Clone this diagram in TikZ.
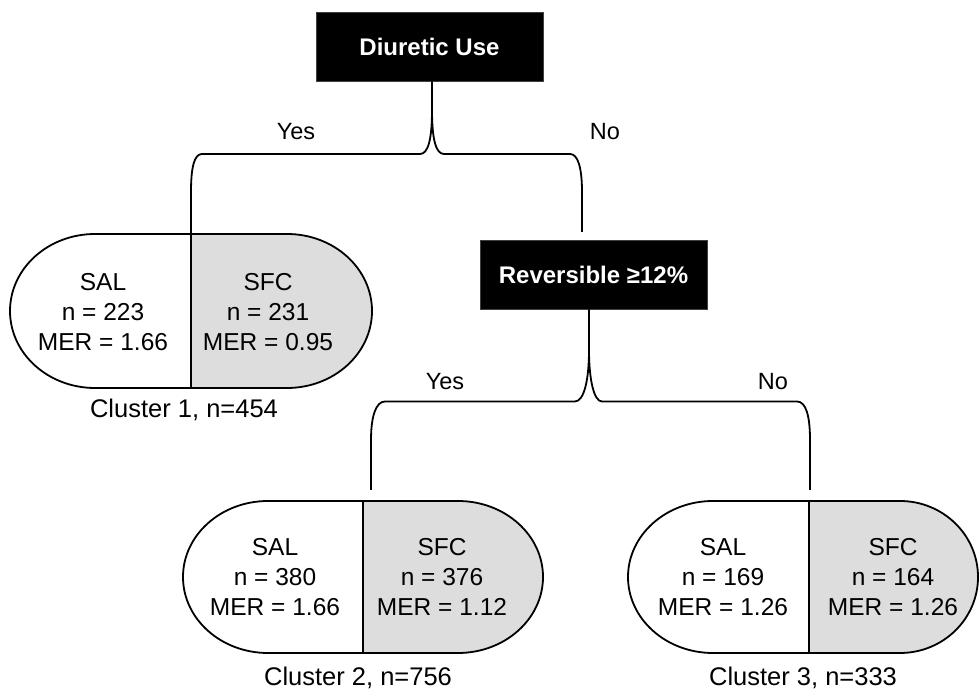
\documentclass[tikz,border=0pt]{standalone}
\usepackage{fontspec}
\setmainfont{Liberation Sans}
\newcommand\capsule[8]{%
  % #1=L #2=D #3=R #4=T #5=B #6=rxL #7=rxR #8=ry
  \filldraw[half, fill=white] (#2,#4) -- (#1+#6,#4) arc[start angle=90, end angle=270, x radius=#6pt, y radius=#8pt] -- (#2,#5) -- cycle;
  \filldraw[half, fill=halfgray] (#2,#5) -- (#3-#7,#5) arc[start angle=-90, end angle=90, x radius=#7pt, y radius=#8pt] -- (#2,#4) -- cycle;
}
\definecolor{halfgray}{RGB}{221,221,221}
\begin{document}
\begin{tikzpicture}[x=1pt,y=1pt,
  txt/.style={font=\fontsize{24.5}{30}\selectfont, align=center, inner sep=0pt},
  clus/.style={font=\fontsize{25.5}{30}\selectfont, inner sep=0pt},
  lbl/.style={font=\fontsize{23.5}{26}\selectfont, inner sep=0pt},
  decision/.style={fill=black, draw=black!75, line width=0.6pt, text=white,
    font=\bfseries\fontsize{24}{28}\selectfont, inner sep=0pt,
    minimum width=227pt, minimum height=69pt},
  half/.style={draw=black, line width=1.8pt, line join=round},
  link/.style={draw=black, line width=1.8pt, line join=round}]
\useasboundingbox (0,0) rectangle (979,690);
\fill[white] (0,0) rectangle (979,690);

% decision boxes
\node[decision] (d1) at (429.5,643.5) {Diuretic Use};
\node[decision] (d2) at (593.5,415.5) {Reversible ≥12\%};

% capsules
\capsule{10}{191}{372}{456}{302}{85}{85}{77}
\capsule{183}{363}{543}{189}{37}{85}{85}{76}
\capsule{628}{809}{978}{189}{37}{85}{78}{76}

% capsule texts
\node[txt] (p1l) at (103,378) {SAL\\n = 223\\MER = 1.66};
\node[txt] (p1r) at (268,378) {SFC\\n = 231\\MER = 0.95};
\node[txt] (p2l) at (275,113) {SAL\\n = 380\\MER = 1.66};
\node[txt] (p2r) at (442,113) {SFC\\n = 376\\MER = 1.12};
\node[txt] (p3l) at (723,113) {SAL\\n = 169\\MER = 1.26};
\node[txt] (p3r) at (893,113) {SFC\\n = 164\\MER = 1.26};

\node[clus] (c1) at (184,280) {Cluster 1, n=454};
\node[clus] (c2) at (358,12) {Cluster 2, n=756};
\node[clus] (c3) at (803,12) {Cluster 3, n=333};

% branch labels
\node[lbl] (y1) at (296,558) {Yes};
\node[lbl] (n1) at (605,558) {No};
\node[lbl] (y2) at (445,308) {Yes};
\node[lbl] (n2) at (773,308) {No};

% connector end points
\coordinate (b1) at (432,580);
\coordinate (p1top) at (191,456);
\coordinate (d2in) at (582,458);
\coordinate (b2) at (589,340);
\coordinate (p2top) at (371,200);
\coordinate (p3top) at (810,200);

% brace 1
\draw[link] (d1.south -| b1) -- (b1)
  .. controls (432,550) and (428,536) .. (420,536) -- (202,536)
  .. controls (194,536) and (191,522) .. (191,498) -- (p1top);
\draw[link] (b1)
  .. controls (432,550) and (436,536) .. (444,536) -- (570,536)
  .. controls (578,536) and (582,522) .. (582,498) -- (d2in);

% brace 2
\draw[link] (d2.south -| b2) -- (b2)
  .. controls (589,310) and (584,288.5) .. (575,288.5) -- (385,288.5)
  .. controls (376,288.5) and (371,274) .. (371,250) -- (p2top);
\draw[link] (b2)
  .. controls (589,310) and (594,288.5) .. (602,288.5) -- (797,288.5)
  .. controls (806,288.5) and (810,274) .. (810,250) -- (p3top);
\end{tikzpicture}
\end{document}
